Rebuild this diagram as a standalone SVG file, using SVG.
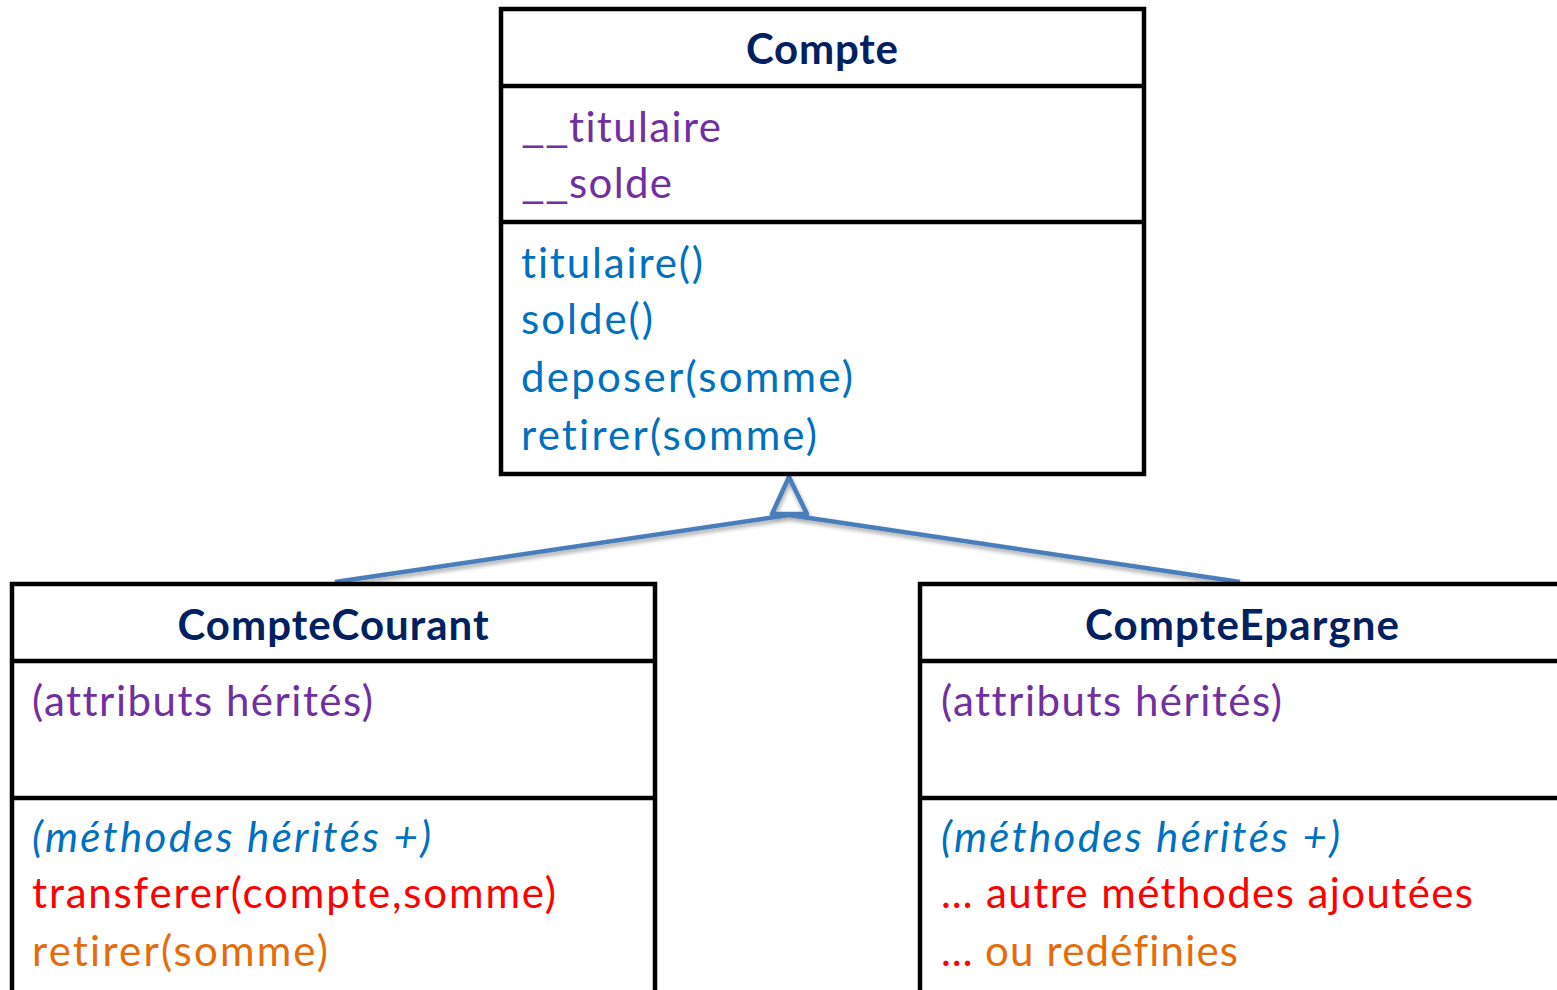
<svg xmlns="http://www.w3.org/2000/svg" width="1557" height="990" viewBox="0 0 1557 990">
  <defs>
    <style>
      .box { fill: #ffffff; stroke: #000000; stroke-width: 4.5; }
      .sep { stroke: #000000; stroke-width: 4.5; }
      .t { font-family: Lato, "Open Sans", "Liberation Sans", sans-serif; font-size: 42px; font-variant-ligatures: none; font-feature-settings: "liga" 0, "clig" 0; }
      .title { font-weight: bold; fill: #002060; text-anchor: middle; }
      .attr { fill: #7030A0; }
      .meth { fill: #0070C0; }
      .inh { fill: #0070C0; font-style: italic; }
      .added { fill: #FF0000; }
      .redef { fill: #E46C0A; }
      .link { fill: none; stroke: #4A7EBB; stroke-width: 4.5; stroke-linejoin: round; }
    </style>
    <filter id="shadow" x="-10%" y="-50%" width="120%" height="200%">
      <feGaussianBlur in="SourceAlpha" stdDeviation="2"/>
      <feOffset dx="1" dy="3" result="b"/>
      <feComponentTransfer><feFuncA type="linear" slope="0.35"/></feComponentTransfer>
      <feMerge><feMergeNode/><feMergeNode in="SourceGraphic"/></feMerge>
    </filter>
  </defs>

  <!-- generalisation connectors -->
  <g id="connectors" filter="url(#shadow)">
    <path class="link" d="M335,582 L789,515 L1240,582"/>
    <path class="link" d="M789,477 L772,514 L807,514 Z"/>
  </g>

  <!-- base class -->
  <g id="Compte">
    <rect class="box" x="501" y="9" width="643" height="465"/>
    <line class="sep" x1="501" y1="86" x2="1144" y2="86"/>
    <line class="sep" x1="501" y1="222" x2="1144" y2="222"/>
    <text class="t title" x="822" y="64" textLength="152">Compte</text>
    <text class="t attr" y="142"><tspan x="521" textLength="48" lengthAdjust="spacingAndGlyphs">__</tspan><tspan x="569" textLength="152">titulaire</tspan></text>
    <text class="t attr" y="198"><tspan x="521" textLength="48" lengthAdjust="spacingAndGlyphs">__</tspan><tspan x="569" textLength="103">solde</tspan></text>
    <text class="t meth" x="521" y="278" textLength="182">titulaire()</text>
    <text class="t meth" x="521" y="334" textLength="132">solde()</text>
    <text class="t meth" x="521" y="392" textLength="332">deposer(somme)</text>
    <text class="t meth" x="521" y="450" textLength="296">retirer(somme)</text>
  </g>

  <!-- subclass: current account -->
  <g id="CompteCourant">
    <rect class="box" x="12" y="584" width="643" height="430"/>
    <line class="sep" x1="12" y1="661" x2="655" y2="661"/>
    <line class="sep" x1="12" y1="798" x2="655" y2="798"/>
    <text class="t title" x="333" y="640" textLength="311">CompteCourant</text>
    <text class="t attr" x="32" y="716" textLength="341">(attributs hérités)</text>
    <text class="t inh" x="32" y="852" textLength="399">(méthodes hérités +)</text>
    <text class="t added" x="32" y="908" textLength="524">transferer(compte,somme)</text>
    <text class="t redef" x="32" y="966" textLength="296">retirer(somme)</text>
  </g>

  <!-- subclass: savings account -->
  <g id="CompteEpargne">
    <rect class="box" x="920" y="584" width="700" height="430"/>
    <line class="sep" x1="920" y1="661" x2="1620" y2="661"/>
    <line class="sep" x1="920" y1="798" x2="1620" y2="798"/>
    <text class="t title" x="1242" y="640" textLength="314">CompteEpargne</text>
    <text class="t attr" x="941" y="716" textLength="341">(attributs hérités)</text>
    <text class="t inh" x="941" y="852" textLength="399">(méthodes hérités +)</text>
    <text class="t added" x="941" y="908" textLength="532">… autre méthodes ajoutées</text>
    <text class="t" y="966"><tspan class="added" x="941">…</tspan><tspan class="redef" x="985" textLength="253">ou redéfinies</tspan></text>
  </g>
</svg>
